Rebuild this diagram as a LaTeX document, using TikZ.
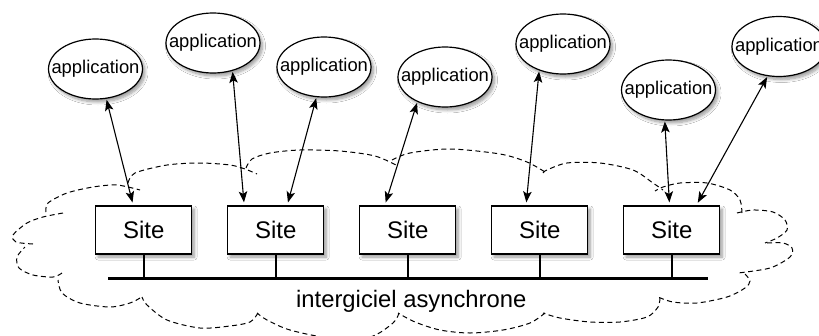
\documentclass[tikz,border=0pt]{standalone}
\usepackage{fontspec}
\setmainfont{Liberation Sans}
\usetikzlibrary{arrows.meta,shapes.geometric,shadows.blur}
\begin{document}
\begin{tikzpicture}[x=1pt,y=-1pt,
  softshadow/.style={blur shadow={shadow xshift=2.5pt,shadow yshift=-3pt,shadow opacity=40,shadow blur radius=3pt,shadow blur steps=8}},
  app/.style={ellipse,draw,line width=1.2pt,fill=white,minimum width=94pt,minimum height=60pt,inner sep=0pt,
    font=\fontsize{18.4}{20}\selectfont,softshadow},
  sitebox/.style={rectangle,draw,line width=1.2pt,fill=white,minimum width=96pt,minimum height=48pt,inner sep=0pt,
    font=\fontsize{24}{26}\selectfont,softshadow},
  link/.style={line width=1.1pt,{Stealth[length=11pt,width=8.5pt,inset=2.5pt]}-{Stealth[length=11pt,width=8.5pt,inset=2.5pt]},
    shorten <=1pt,shorten >=3pt},
  cloudline/.style={line width=1pt,dash pattern=on 5pt off 3.5pt},
  bus/.style={line width=2.4pt},
  caption/.style={font=\fontsize{23.8}{26}\selectfont,inner sep=0pt}]
\clip (0,0) rectangle (819,335);
\fill[white] (0,0) rectangle (819,335);
% cloud
\draw[cloudline] plot[smooth] coordinates {(46,212) (48,203) (67,193) (93,187) (117,185) (140,190)};
\draw[cloudline] plot[smooth] coordinates {(33,244) (16,242) (13,235) (27,223) (43,217) (63,213)};
\draw[cloudline] plot[smooth] coordinates {(62,273) (53,277) (33,275) (19,268) (17,257) (25,247)};
\draw[cloudline] plot[smooth] coordinates {(140,298) (130,303) (110,307) (80,303) (62,293) (58,280)};
\draw[cloudline] plot[smooth] coordinates {(258,313) (250,322) (230,326) (200,328) (167,320) (147,305) (142,297)};
\draw[cloudline] plot[smooth] coordinates {(399,313) (393,323) (370,337) (330,338) (290,330) (267,320) (257,313)};
\draw[cloudline] plot[smooth] coordinates {(545,313) (530,323) (503,330) (470,333) (440,330) (415,322) (398,313)};
\draw[cloudline] plot[smooth] coordinates {(660,298) (658,307) (647,317) (620,322) (590,322) (560,318) (543,313)};
\draw[cloudline] plot[smooth] coordinates {(745,274) (750,281) (745,288) (727,297) (697,303) (673,302) (658,297)};
\draw[cloudline] plot[smooth] coordinates {(767,243) (783,243) (792,248) (790,257) (770,268) (738,273)};
\draw[cloudline] plot[smooth] coordinates {(737,213) (753,210) (773,212) (785,220) (787,230) (777,238) (765,243)};
\draw[cloudline] plot[smooth] coordinates {(742,213) (740,200) (730,190) (707,183) (680,183) (663,187) (655,191)};
\draw[cloudline] plot[smooth] coordinates {(543,173) (547,170) (567,163) (600,163) (633,170) (653,183) (663,190)};
\draw[cloudline] plot[smooth] coordinates {(392,160) (410,153) (450,149) (500,154) (527,162) (545,172)};
\draw[cloudline] plot[smooth] coordinates {(246,168) (252,159) (270,153) (300,150) (340,151) (375,156) (398,166)};
\draw[cloudline] plot[smooth] coordinates {(128,183) (135,173) (167,165) (200,163) (230,165) (245,169) (257,174)};
% sites
\node[sitebox] (s1) at (143.7,230) {Site};
\node[sitebox] (s2) at (275.7,230) {Site};
\node[sitebox] (s3) at (407.7,230) {Site};
\node[sitebox] (s4) at (539.7,230) {Site};
\node[sitebox] (s5) at (671.7,230) {Site};
% applications
\node[app] (e1) at (95.5,69) {\makebox[0pt]{application}};
\node[app] (e2) at (213,43) {\makebox[0pt]{application}};
\node[app] (e3) at (324,67) {\makebox[0pt]{application}};
\node[app] (e4) at (445,77) {\makebox[0pt]{application}};
\node[app] (e5) at (563,44) {\makebox[0pt]{application}};
\node[app] (e6) at (668.5,90) {\makebox[0pt]{application}};
\node[app] (e7) at (779,46.5) {\makebox[0pt]{application}};
% bus
\coordinate (busL) at (108,278.3);
\coordinate (busR) at (708,278.3);
\draw[bus] (busL) -- (busR);
\foreach \s in {s1,s2,s3,s4,s5} \draw[bus] (\s.south) -- (\s.south |- busL);
\node[caption,anchor=base] (mw) at (411.3,307) {intergiciel asynchrone};
% links
\draw[link] (e1.-70) -- (s1.113.4);
\draw[link] (e2.-55.8) -- (s2.142);
\draw[link] (e3.-104.9) -- (s2.65.4);
\draw[link] (e4.-138.7) -- (s3.133.4);
\draw[link] (e5.-132.9) -- (s4.119.7);
\draw[link] (e6.-97) -- (s5.95.7);
\draw[link] (e7.-111.5) -- (s5.45.8);
\end{tikzpicture}
\end{document}
